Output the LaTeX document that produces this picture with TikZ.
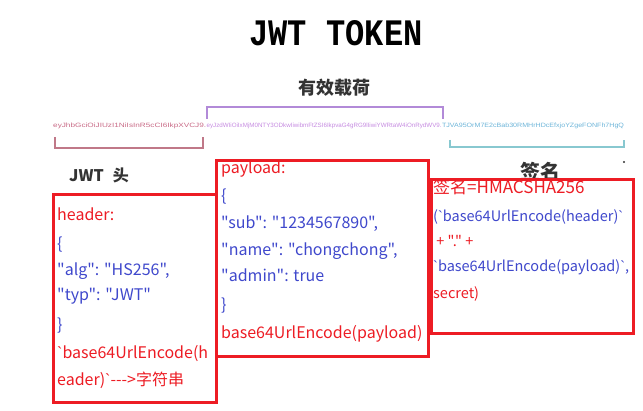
\documentclass[tikz,border=0pt]{standalone}
\usepackage{fontspec}
\setmainfont{Noto Sans CJK SC}[Ligatures=TeXOff]
\newfontfamily\titlefont{Liberation Mono}
\newfontfamily\tokfont{Liberation Sans}[Ligatures=TeXOff]
\newcommand{\btk}{{\tokfont`}}
\definecolor{jred}{HTML}{ED1C24}
\definecolor{jblue}{HTML}{3F48CC}
\definecolor{tokpink}{HTML}{C86A86}
\definecolor{tokpurple}{HTML}{C58AE0}
\definecolor{tokcyan}{HTML}{6CB4D8}
\definecolor{brpink}{HTML}{C07888}
\definecolor{brpurple}{HTML}{B28AD8}
\definecolor{brcyan}{HTML}{88C8D0}
\definecolor{capgray}{HTML}{333333}
\tikzset{
  jline/.style={anchor=west, inner sep=0pt, text height=11pt, text depth=3pt,
    font=\fontsize{16}{16}\selectfont},
  jr/.style={jline, text=jred},
  jb/.style={jline, text=jblue},
  jsmall/.style={font=\fontsize{14.5}{14.5}\selectfont},
  redbox/.style={draw=jred, fill=white, line width=3pt, anchor=north west, inner sep=0pt},
  tok/.style={anchor=west, inner sep=0pt, font=\tokfont},
  bracket/.style={line width=1.6pt},
  caption/.style={font=\bfseries, text=capgray, inner sep=0pt}
}
\begin{document}
\begin{tikzpicture}[x=1pt, y=-1pt]
\useasboundingbox (0,0) rectangle (643,411);
% title
\node[inner sep=0pt] (title) at (336,33) {\resizebox{173pt}{25pt}{\titlefont\bfseries JWT TOKEN}};
\node[caption, font=\bfseries\fontsize{18}{18}\selectfont] (payloadcap) at (334,88) {有效载荷};
% token string
\node[tok, text=tokpink] (tokh) at (53,126) {\resizebox{153pt}{4.5pt}{eyJhbGciOiJIUzI1NiIsInR5cCI6IkpXVCJ9.}};
\node[tok, text=tokpurple] (tokp) at (tokh.east) {\resizebox{235pt}{4.5pt}{eyJzdWIiOiIxMjM0NTY3ODkwIiwibmFtZSI6IkpvaG4gRG9lIiwiYWRtaW4iOnRydWV9.}};
\node[tok, text=tokcyan] (toks) at (tokp.east) {\resizebox{182pt}{4.5pt}{TJVA95OrM7E2cBab30RMHrHDcEfxjoYZgeFONFh7HgQ}};
% brackets
\draw[bracket, brpurple] (207,119) -- (207,107) -- (443,107) -- (443,119);
\draw[bracket, brpink] (55,137) -- (55,148) -- (203,148) -- (203,137);
\draw[bracket, brcyan] (450,140) -- (450,147) -- (624,147) -- (624,140);
% captions
\node[caption, font=\bfseries\fontsize{16}{16}\selectfont] (headcap) at (99,175) {JWT\,\, 头};
\node[caption, font=\bfseries\fontsize{20}{20}\selectfont] (sigcap) at (540,172) {签名};
\node[fill=capgray, circle, inner sep=0.8pt] (dot) at (624,162) {};
% boxes
\node[redbox, minimum width=163pt, minimum height=208pt] (box1) at (52,193) {};
\node[redbox, minimum width=212pt, minimum height=196pt] (box2) at (215,159) {};
\node[redbox, minimum width=202pt, minimum height=154pt] (box3) at (430,178) {};
% box 1
\node[jr] (h1) at (57,217) {header:};
\node[jb] (h2) at (57,246) {\{};
\node[jb] (h3) at (57,272) {"alg": "HS256",};
\node[jb] (h4) at (57,297) {"typ": "JWT"};
\node[jb] (h5) at (57,327) {\}};
\node[jr] (h6) at (57,355) {\btk base64UrlEncode(h};
\node[jr] (h7) at (57,382) {eader)\btk{-}{-}{-}>字符串};
% box 2
\node[jr] (p1) at (221,170) {payload:};
\node[jb] (p2) at (221,198) {\{};
\node[jb] (p3) at (221,225) {"sub": "1234567890",};
\node[jb] (p4) at (221,252) {"name": "chongchong",};
\node[jb] (p5) at (221,278) {"admin": true};
\node[jb] (p6) at (221,307) {\}};
\node[jr] (p7) at (221,335) {base64UrlEncode(payload)};
% box 3
\node[jr, font=\fontsize{17}{17}\selectfont] (s1) at (433,190) {签名=HMACSHA256};
\node[jb, jsmall] (s2) at (433,218) {(\btk base64UrlEncode(header)\btk};
\node[jr, jsmall] (s3) at (433,243) {\ + "." +};
\node[jb, jsmall] (s4) at (433,268) {\btk base64UrlEncode(payload)\btk,};
\node[jr, jsmall] (s5) at (433,295) {secret)};
\end{tikzpicture}
\end{document}
